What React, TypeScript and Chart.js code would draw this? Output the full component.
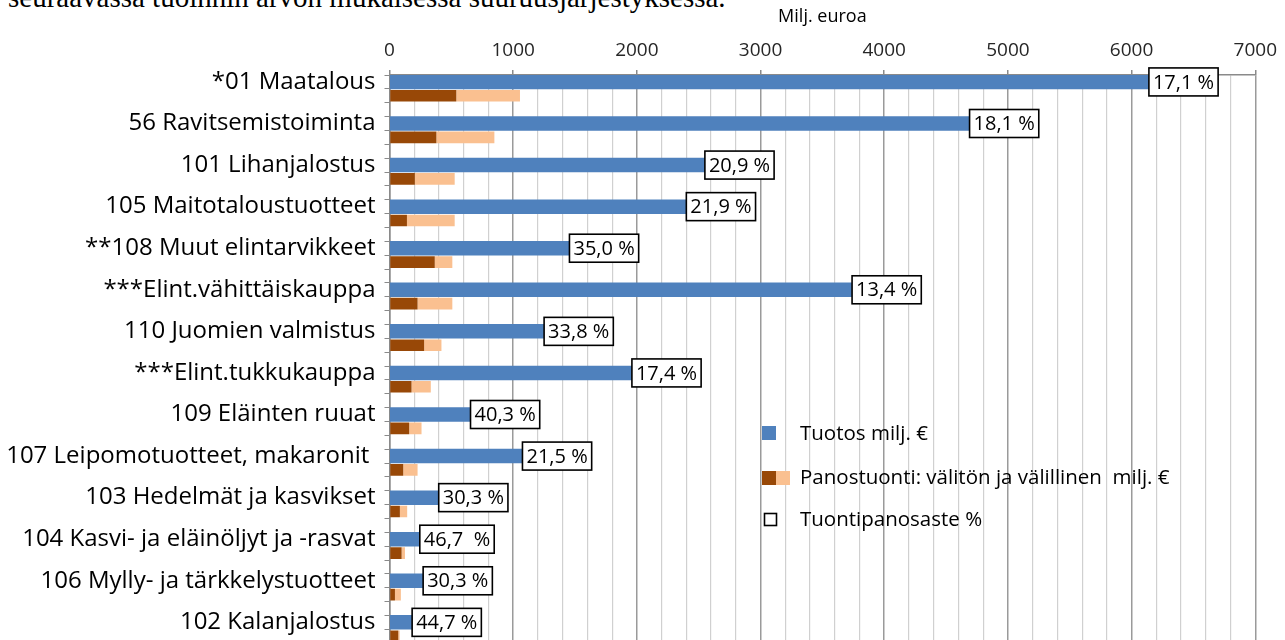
import React, { useEffect, useRef } from "react";
import { Chart, registerables } from "chart.js";

Chart.register(...registerables);

// ---- data ----
const categories = [
  "*01 Maatalous",
  "56 Ravitsemistoiminta",
  "101 Lihanjalostus",
  "105 Maitotaloustuotteet",
  "**108 Muut elintarvikkeet",
  "***Elint.vähittäiskauppa",
  "110 Juomien valmistus",
  "***Elint.tukkukauppa",
  "109 Eläinten ruuat",
  "107 Leipomotuotteet, makaronit ",
  "103 Hedelmät ja kasvikset",
  "104 Kasvi- ja eläinöljyt ja -rasvat",
  "106 Mylly- ja tärkkelystuotteet",
  "102 Kalanjalostus",
];
const tuotos = [6140, 4690, 2550, 2400, 1455, 3740, 1250, 1960, 655, 1075, 398, 245, 272, 183];
const valiton = [540, 379, 205, 141, 366, 227, 280, 178, 159, 111, 84, 98, 44, 71];
const valillinen = [515, 469, 322, 386, 142, 281, 140, 156, 100, 116, 59, 27, 48, 11];
const tuontipanosaste = [
  "17,1 %", "18,1 %", "20,9 %", "21,9 %", "35,0 %", "13,4 %", "33,8 %",
  "17,4 %", "40,3 %", "21,5 %", "30,3 %", "46,7  %", "30,3 %", "44,7 %",
];
const xMin = 0;
const xMax = 7000;
const xMajorStep = 1000;
const xMinorStep = 200;

const legendLabels = [
  "Tuotos milj. €",
  "Panostuonti: välitön ja välillinen  milj. €",
  "Tuontipanosaste %",
];
const axisTitle = "Milj. euroa";
const topText = "seuraavassa tuoinnin arvon mukaisessa suuruusjärjestyksessä.";

// ---- style ----
const FONT = "'Open Sans'";
const BLUE = "#4f81bd";
const BROWN = "#984807";
const ORANGE = "#fac090";
const MAJOR = "#9a9a9a";
const MINOR = "#d0d0d0";
const AXIS = "#8a8a8a";

const CANVAS_W = 1285;
const CANVAS_H = 700;

const rowLabels = categories.flatMap((c) => [c, "", ""]);
const rowData = (vals: number[], slot: number) =>
  rowLabels.map((_, r) => (r % 3 === slot ? vals[Math.floor(r / 3)] : null));

const boxLabelPlugin = {
  id: "boxLabels",
  afterDatasetsDraw(chart: any) {
    const ctx = chart.ctx;
    const meta = chart.getDatasetMeta(0);
    ctx.save();
    ctx.font = `20px ${FONT}`;
    ctx.textBaseline = "middle";
    ctx.textAlign = "left";
    tuontipanosaste.forEach((txt, i) => {
      const el: any = meta.data[i * 3];
      if (!el) return;
      const x = el.x;
      const y = el.y;
      const w = ctx.measureText(txt).width + 8;
      const h = 28;
      ctx.fillStyle = "#ffffff";
      ctx.fillRect(x, y - h / 2, w, h);
      ctx.lineWidth = 1.6;
      ctx.strokeStyle = "#000000";
      ctx.strokeRect(x, y - h / 2, w, h);
      ctx.fillStyle = "#000000";
      ctx.fillText(txt, x + 4, y + 1);
    });
    ctx.restore();
  },
};

const legendPlugin = {
  id: "customLegend",
  afterDraw(chart: any) {
    const ctx = chart.ctx;
    ctx.save();
    ctx.font = `20.5px ${FONT}`;
    ctx.textBaseline = "middle";
    ctx.textAlign = "left";
    ctx.fillStyle = BLUE;
    ctx.fillRect(762, 426, 14, 14);
    ctx.fillStyle = BROWN;
    ctx.fillRect(762, 471, 14, 14);
    ctx.fillStyle = ORANGE;
    ctx.fillRect(776, 471, 14, 14);
    ctx.lineWidth = 1.6;
    ctx.strokeStyle = "#000";
    ctx.fillStyle = "#fff";
    ctx.fillRect(764.5, 513.5, 12, 12);
    ctx.strokeRect(764.5, 513.5, 12, 12);
    ctx.fillStyle = "#000";
    ctx.fillText(legendLabels[0], 800, 434);
    ctx.fillText(legendLabels[1], 800, 478);
    ctx.fillText(legendLabels[2], 800, 520);
    ctx.restore();
  },
};

export default function App() {
  const canvasRef = useRef<HTMLCanvasElement | null>(null);

  useEffect(() => {
    if (!canvasRef.current) return;
    const chart = new Chart(canvasRef.current, {
      type: "bar",
      data: {
        labels: rowLabels,
        datasets: [
          {
            label: legendLabels[0],
            data: rowData(tuotos, 0),
            backgroundColor: BLUE,
            barPercentage: 1.0,
            categoryPercentage: 1.0,
          },
          {
            label: "välitön",
            data: rowData(valiton, 1),
            backgroundColor: BROWN,
            barPercentage: 0.84,
            categoryPercentage: 1.0,
          },
          {
            label: "välillinen",
            data: rowData(valillinen, 1),
            backgroundColor: ORANGE,
            barPercentage: 0.84,
            categoryPercentage: 1.0,
          },
        ],
      },
      options: {
        indexAxis: "y",
        responsive: false,
        animation: false,
        layout: { padding: { left: 0, right: 25, top: 0, bottom: CANVAS_H - 657 } },
        plugins: {
          legend: { display: false },
          tooltip: { enabled: false },
        },
        scales: {
          x: {
            position: "top",
            stacked: true,
            min: xMin,
            max: xMax,
            afterFit: (s: any) => {
              s.height = 75;
            },
            ticks: {
              stepSize: xMinorStep,
              autoSkip: false,
              maxRotation: 0,
              padding: 8,
              color: "#262626",
              font: { family: FONT, size: 19 },
              callback: (v: any) => (Number(v) % xMajorStep === 0 ? String(v) : ""),
            },
            grid: {
              color: (c: any) => (c.tick && c.tick.value % xMajorStep === 0 ? MAJOR : MINOR),
              tickColor: (c: any) =>
                c.tick && c.tick.value % xMajorStep === 0 ? AXIS : "rgba(0,0,0,0)",
              lineWidth: (c: any) => (c.tick && c.tick.value % xMajorStep === 0 ? 1.5 : 1.2),
              tickLength: 5,
            },
            border: { color: AXIS, width: 1.5 },
            title: {
              display: true,
              text: axisTitle,
              color: "#000",
              font: { family: FONT, size: 18 },
              padding: { top: 6, bottom: 0 },
            },
          },
          y: {
            stacked: true,
            afterFit: (s: any) => {
              s.width = 389.5;
            },
            ticks: {
              autoSkip: false,
              padding: 9,
              color: "#000",
              font: { family: FONT, size: 24 },
            },
            grid: {
              drawOnChartArea: false,
              offset: true,
              tickLength: 5,
              color: AXIS,
            },
            border: { color: AXIS, width: 1.5 },
          },
        },
      },
      plugins: [boxLabelPlugin, legendPlugin],
    } as any);
    return () => chart.destroy();
  }, []);

  return (
    <div
      style={{
        position: "fixed",
        left: 0,
        top: 0,
        width: 1285,
        height: 640,
        overflow: "hidden",
        background: "#fff",
      }}
    >
      <div
        style={{
          position: "absolute",
          left: 8,
          top: -17,
          fontFamily: "'Liberation Serif', 'Times New Roman', serif",
          fontSize: 29,
          lineHeight: "29px",
          whiteSpace: "nowrap",
          color: "#000",
        }}
      >
        {topText}
      </div>
      <canvas
        ref={canvasRef}
        width={CANVAS_W}
        height={CANVAS_H}
        style={{ position: "absolute", left: 0, top: 0, width: CANVAS_W, height: CANVAS_H }}
      />
    </div>
  );
}
